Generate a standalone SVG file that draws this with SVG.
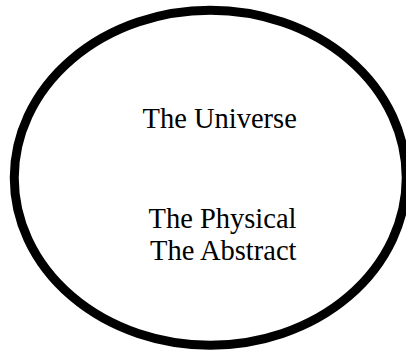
<svg xmlns="http://www.w3.org/2000/svg" width="406" height="350" viewBox="0 0 406 350">
<style>
.lbl{font-family:"Liberation Serif","Times New Roman",serif;font-size:28.5px;fill:#000;text-anchor:middle}
</style>
<rect width="406" height="350" fill="#fff"/>
<g id="universe">
<ellipse cx="210.25" cy="177.75" rx="196" ry="167.5" fill="none" stroke="#000" stroke-width="9"/>
<text class="lbl" x="219.7" y="128.3">The Universe</text>
</g>
<g id="contents">
<text class="lbl" x="222.5" y="228">The Physical</text>
<text class="lbl" x="223.3" y="259.5">The Abstract</text>
</g>
<g id="connectors"></g>
</svg>
